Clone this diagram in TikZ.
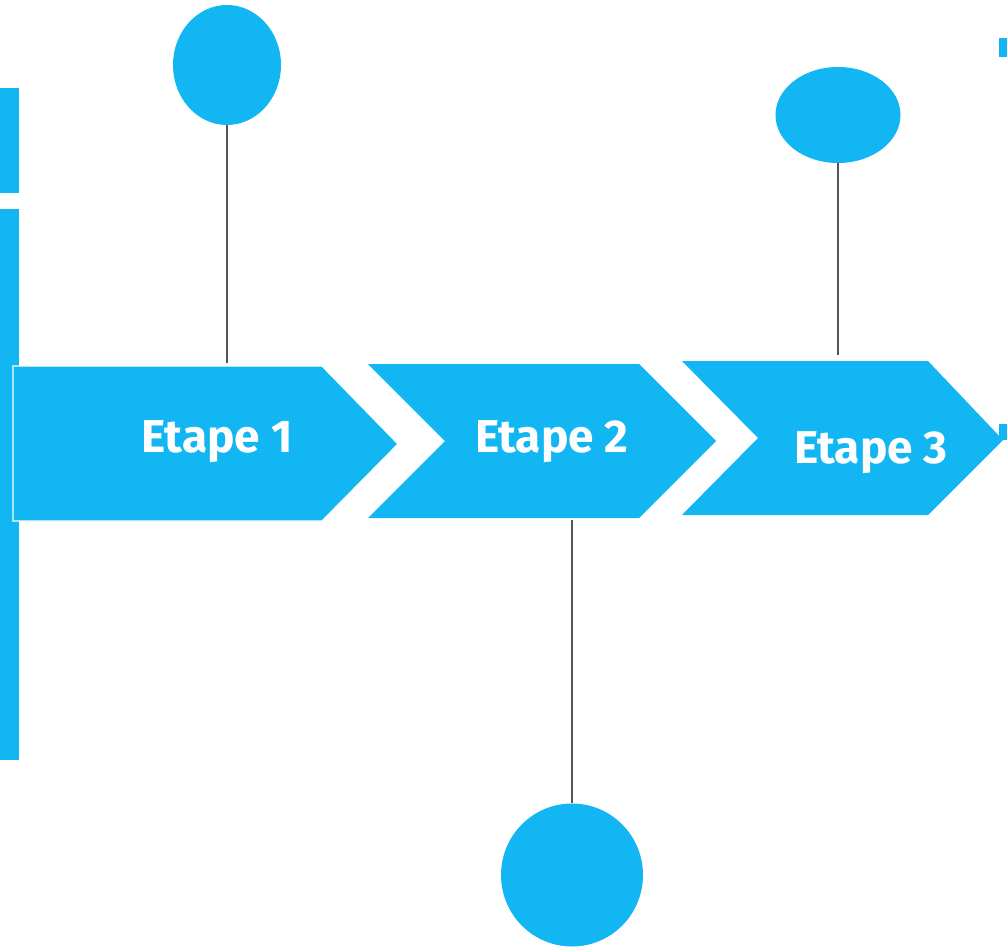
\documentclass[tikz,border=0pt]{standalone}
\usepackage{fontspec}
\setmainfont{Fira Sans}
\usepackage{xcolor}
\usetikzlibrary{shapes.geometric}

\definecolor{stepblue}{HTML}{12B6F3}
\definecolor{stemgrey}{HTML}{555555}

\tikzset{
	chevron/.style={fill=stepblue, draw=none},
	bubble/.style={ellipse, fill=stepblue, inner sep=0pt},
	stem/.style={draw=stemgrey, line width=1.6pt},
	steplabel/.style={anchor=base, text=white, font=\bfseries\fontsize{46}{46}\selectfont}
}

\begin{document}
\begin{tikzpicture}[x=1pt, y=-1pt]
	\def\top{364};
	\def\bot{519};
	\def\mid{441};

	\useasboundingbox (0,0) rectangle (1007,948);

	% bars at the edges
	\begin{scope}
		\fill[stepblue] (0,88) rectangle (19,193);
		\fill[stepblue] (0,209) rectangle (19,760);
		\fill[stepblue] (999,38) rectangle (1007,57);
	\end{scope}

	% the three chevrons
	\begin{scope}
		\draw[chevron, draw=white, line width=1.2pt] (13,366) -- (322,366) -- (398,444) -- (322,521) -- (13,521) -- cycle;
		\fill[stepblue] (368,\top) -- (639,\top) -- (716,\mid) -- (639,518) -- (368,518) -- (445,\mid) -- cycle;
		\fill[stepblue] (682,361) -- (928,361) -- (1003,440) -- (928,515) -- (682,515) -- (758,438) -- cycle;
		\fill[stepblue] (999,424) rectangle (1007,440);
	\end{scope}

	\node[steplabel] (e1) at (217,452) {Etape 1};
	\node[steplabel] (e2) at (552,452) {Etape 2};
	\node[steplabel] (e3) at (871,463) {Etape 3};

	% bubbles and their stems
	\node[bubble, minimum width=108pt, minimum height=120pt] (b1) at (227,65) {};
	\node[bubble, minimum width=142pt, minimum height=143pt] (b2) at (572,875) {};
	\node[bubble, minimum width=125pt, minimum height=96pt] (b3) at (838,115) {};

	\coordinate (s1) at (227,363);
	\coordinate (s2) at (572,520);
	\coordinate (s3) at (838,355);

	\draw[stem] (b1.south) -- (s1);
	\draw[stem] (s2) -- (b2.north);
	\draw[stem] (b3.south) -- (s3);
\end{tikzpicture}
\end{document}
